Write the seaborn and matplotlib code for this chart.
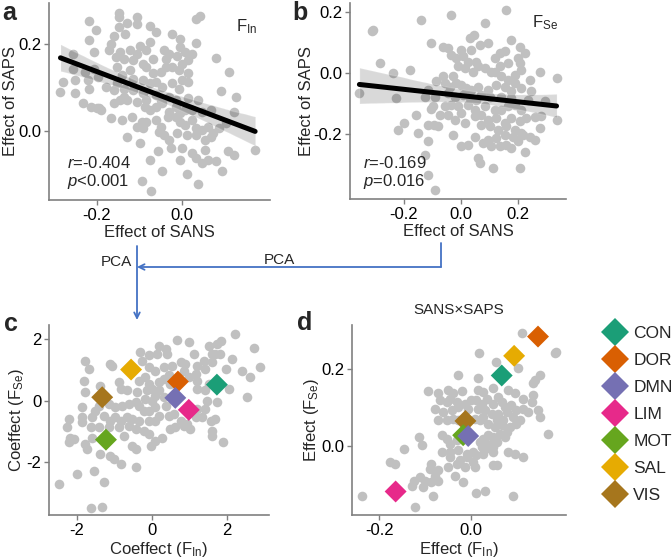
import numpy as np
import pandas as pd
import matplotlib
matplotlib.use("Agg")
import matplotlib.pyplot as plt
import seaborn as sns
from matplotlib.ticker import FormatStrFormatter

# ---- panel a : factor F_In (effect of SANS vs effect of SAPS) ----
sans_a = [-0.149, -0.149, -0.130, -0.149, -0.107, -0.107, -0.075, 0.042, 0.034, -0.218,
          -0.202, -0.160, -0.134, -0.061, -0.023, -0.004, -0.004, 0.034, -0.218, -0.168,
          -0.172, -0.145, -0.122, -0.107, -0.099, -0.076, -0.084, -0.042, -0.031, 0.008,
          0.023, 0.015, -0.256, -0.206, -0.156, -0.137, -0.115, -0.092, -0.069, -0.038,
          -0.011, 0.000, -0.038, 0.080, 0.111, -0.256, -0.229, -0.206, -0.153, -0.141,
          -0.122, -0.084, -0.069, -0.050, -0.023, -0.008, 0.015, 0.015, 0.000, -0.279,
          -0.252, -0.221, -0.198, -0.179, -0.153, -0.137, -0.115, -0.092, -0.076, -0.061,
          -0.046, -0.023, -0.008, -0.286, -0.252, -0.218, -0.160, -0.137, -0.115, -0.092,
          -0.084, -0.061, -0.050, -0.031, -0.015, 0.015, 0.038, 0.092, 0.126, -0.233,
          -0.214, -0.195, -0.160, -0.145, -0.130, -0.107, -0.088, -0.076, -0.061, -0.046,
          -0.031, -0.015, -0.004, 0.008, 0.023, 0.046, 0.069, 0.122, -0.168, -0.141,
          -0.118, -0.095, -0.107, -0.092, -0.084, -0.061, -0.050, -0.034, -0.015, -0.004,
          0.008, 0.023, 0.034, 0.046, 0.061, 0.073, 0.088, 0.103, -0.130, -0.099,
          -0.053, -0.042, -0.031, -0.011, 0.011, 0.034, 0.053, 0.069, -0.027, -0.057,
          0.000, 0.023, 0.034, 0.053, 0.107, 0.122, 0.172, -0.076, -0.004, 0.046,
          0.061, 0.080, 0.095, -0.046, 0.011, 0.038, -0.073, -0.095, -0.200, -0.191]
saps_a = [0.272, 0.261, 0.249, 0.238, 0.261, 0.246, 0.242, 0.265, 0.257, 0.252,
          0.232, 0.219, 0.223, 0.227, 0.223, 0.211, 0.192, 0.202, 0.209, 0.200,
          0.185, 0.181, 0.185, 0.177, 0.196, 0.204, 0.185, 0.186, 0.177, 0.181,
          0.177, 0.162, 0.177, 0.181, 0.170, 0.166, 0.162, 0.153, 0.166, 0.166,
          0.173, 0.153, 0.147, 0.168, 0.135, 0.143, 0.135, 0.143, 0.147, 0.128,
          0.139, 0.147, 0.132, 0.135, 0.147, 0.139, 0.132, 0.113, 0.116, 0.113,
          0.116, 0.116, 0.124, 0.101, 0.109, 0.097, 0.120, 0.116, 0.109, 0.113,
          0.101, 0.109, 0.097, 0.090, 0.087, 0.097, 0.094, 0.078, 0.094, 0.086,
          0.071, 0.082, 0.071, 0.078, 0.071, 0.075, 0.071, 0.092, 0.078, 0.063,
          0.056, 0.052, 0.063, 0.071, 0.071, 0.067, 0.056, 0.048, 0.056, 0.063,
          0.044, 0.056, 0.040, 0.048, 0.048, 0.044, 0.048, 0.044, 0.029, 0.025,
          0.033, 0.021, 0.010, 0.006, 0.021, 0.025, 0.010, 0.033, 0.033, 0.021,
          0.014, 0.025, 0.006, 0.002, 0.010, -0.005, 0.006, 0.017, -0.013, -0.028,
          -0.002, -0.009, -0.021, -0.005, -0.009, -0.009, -0.021, -0.013, -0.040, -0.047,
          -0.040, -0.051, -0.062, -0.043, -0.047, -0.055, -0.043, -0.066, -0.066, -0.074,
          -0.066, -0.070, -0.093, -0.093, -0.100, -0.123, -0.138, -0.116, 0.052, 0.048]

# ---- panel b : factor F_Se ----
sans_b = [-0.034, -0.139, 0.157, 0.083, -0.309, -0.312, 0.046, 0.030, -0.104, -0.063,
          -0.046, 0.001, 0.034, 0.065, 0.095, 0.177, 0.136, 0.153, 0.206, 0.223,
          -0.285, -0.180, -0.034, -0.016, 0.007, 0.025, 0.054, 0.118, 0.106, 0.136,
          0.165, 0.200, 0.206, 0.212, 0.188, 0.165, 0.188, 0.142, 0.118, 0.083,
          0.060, 0.042, 0.013, -0.011, -0.028, -0.063, -0.087, -0.116, -0.057, -0.040,
          -0.016, 0.001, 0.019, 0.036, 0.060, 0.095, 0.124, 0.153, 0.177, 0.212,
          0.241, 0.247, 0.276, 0.335, -0.356, -0.227, -0.127, -0.092, -0.046, -0.022,
          0.007, 0.030, 0.054, 0.071, 0.101, 0.142, 0.177, 0.235, 0.294, -0.098,
          -0.057, -0.034, -0.011, 0.025, 0.048, 0.083, 0.118, 0.142, 0.165, 0.188,
          0.212, 0.282, 0.335, -0.157, -0.075, -0.046, 0.001, 0.048, 0.071, 0.095,
          0.124, 0.153, 0.177, 0.206, 0.229, -0.198, -0.221, -0.116, -0.081, -0.022,
          0.013, 0.071, 0.101, 0.130, 0.159, 0.188, 0.212, 0.277, -0.151, -0.028,
          0.048, 0.095, 0.124, 0.153, 0.182, 0.218, 0.260, -0.116, 0.001, 0.025,
          0.077, 0.106, 0.136, 0.159, 0.177, 0.200, -0.127, 0.060, 0.065, -0.116,
          0.112, 0.206, -0.092, -0.239, -0.095, -0.105, 0.260, 0.225, 0.242]
saps_b = [0.191, 0.173, 0.208, 0.166, 0.142, 0.137, 0.126, 0.115, 0.098, 0.087,
          0.082, 0.077, 0.077, 0.093, 0.098, 0.109, 0.066, 0.071, 0.087, 0.066,
          0.033, 0.011, 0.060, 0.049, 0.055, 0.038, 0.038, 0.049, 0.005, 0.022,
          0.033, 0.049, 0.033, 0.011, -0.005, -0.022, -0.033, -0.011, 0.005, 0.016,
          0.022, 0.005, 0.016, 0.022, -0.011, -0.011, -0.027, -0.055, -0.033, -0.044,
          -0.033, -0.038, -0.049, -0.055, -0.044, -0.055, -0.038, -0.044, -0.060, -0.049,
          -0.022, -0.060, 0.005, -0.016, -0.066, -0.082, -0.077, -0.077, -0.066, -0.077,
          -0.071, -0.082, -0.087, -0.071, -0.077, -0.077, -0.082, -0.087, -0.093, -0.109,
          -0.109, -0.104, -0.109, -0.104, -0.120, -0.109, -0.120, -0.120, -0.109, -0.104,
          -0.120, -0.142, -0.153, -0.137, -0.137, -0.137, -0.131, -0.142, -0.137, -0.153,
          -0.148, -0.164, -0.148, -0.158, -0.148, -0.164, -0.186, -0.169, -0.175, -0.153,
          -0.164, -0.169, -0.175, -0.186, -0.175, -0.186, -0.197, -0.180, -0.195, -0.202,
          -0.208, -0.219, -0.213, -0.202, -0.208, -0.202, -0.220, -0.224, -0.240, -0.235,
          -0.230, -0.240, -0.240, -0.235, -0.246, -0.224, -0.268, -0.279, -0.295, -0.333,
          -0.311, -0.311, -0.383, 0.000, -0.170, -0.118, -0.144, -0.259, -0.210]

# ---- panel c : PCA coefficients of regions ----
coef_in = [2.20, 1.85, 1.73, 2.71, 2.89, 2.40, 2.62, 2.53, 1.88, 2.04,
           1.96, 2.13, 1.51, 1.60, 1.69, 1.82, 1.60, 1.38, 1.42, 1.20,
           1.16, 1.11, 0.98, 0.67, 0.18, 0.36, 0.40, 0.13, -0.09, -0.31,
           -0.27, -0.09, 0.09, 0.31, 0.53, 0.76, 0.89, 0.84, 0.98, 1.20,
           1.20, 1.42, 1.47, 1.73, 1.51, -1.78, -1.69, -1.11, -1.07, -1.82,
           -1.78, -1.38, -0.89, -0.84, -0.67, -0.40, -0.36, -0.18, -0.09, 0.00,
           0.18, 0.31, 0.44, 0.49, 0.18, -0.13, -0.18, 0.00, 0.09, 0.31,
           0.36, 0.09, -0.09, -0.22, -0.36, -0.44, -0.62, -0.80, -0.98, -1.16,
           -1.42, -1.51, -1.87, -1.87, -1.60, -1.29, -1.11, -0.98, -0.84, -0.67,
           -0.53, -0.36, -0.09, 0.09, 0.18, 0.44, 0.58, 0.76, 0.93, 1.16,
           1.33, 1.56, 1.69, 1.20, 1.42, -2.27, -2.22, -1.87, -1.64, -1.42,
           -1.16, -0.89, -0.62, -0.44, -0.22, -0.09, 0.27, 0.49, 0.62, 0.84,
           1.02, 1.60, 1.60, -2.18, -2.09, -2.22, -1.78, -1.60, -0.76, -0.53,
           -0.44, -0.04, 0.09, -1.73, -1.38, -1.11, -1.02, -0.84, -0.44, -1.56,
           -2.00, -1.29, -2.49, -1.64, -1.33]
coef_se = [2.17, 1.93, 1.83, 1.72, 1.09, 0.98, 0.76, 0.11, -1.36, 0.38,
           1.03, 1.36, 1.79, 1.52, 1.52, 1.52, 1.25, 1.30, 1.03, 1.14,
           0.87, 1.52, 1.90, 1.96, 1.79, 1.68, 1.52, 1.52, 1.47, 1.58,
           1.30, 1.09, 0.98, 1.09, 1.14, 1.25, 1.20, 0.98, 0.76, 0.65,
           0.38, 0.33, 0.00, -0.05, 0.54, 1.30, 1.03, 1.20, 1.14, 0.65,
           0.27, 0.49, 0.60, 0.38, 0.33, 0.27, 0.65, 0.76, 0.54, 0.38,
           0.60, 0.71, 0.82, 0.54, 0.33, 0.33, 0.05, 0.00, 0.16, 0.11,
           -0.16, -0.22, -0.33, -0.33, -0.16, -0.05, -0.11, -0.16, -0.22, -0.11,
           -0.16, -0.33, -0.22, -0.54, -0.54, -0.49, -0.65, -0.54, -0.65, -0.54,
           -0.60, -0.65, -0.65, -0.65, -0.49, -0.49, -0.43, -0.65, -0.76, -0.54,
           -0.54, -0.65, -0.60, -0.27, -0.27, -0.87, -0.60, -0.71, -0.87, -0.87,
           -0.87, -0.87, -0.82, -0.92, -0.98, -1.09, -1.20, -0.92, -0.87, -0.82,
           -0.92, -0.98, -1.14, -1.20, -1.25, -1.36, -1.41, -1.20, -1.14, -1.47,
           -1.58, -1.47, -1.30, -1.58, -1.74, -1.79, -1.90, -2.07, -2.17, -2.28,
           -2.39, -2.66, -2.72, -3.48, -3.45]

# ---- panel d : SANS x SAPS interaction effects ----
eff_in = [0.112, 0.018, 0.054, 0.103, 0.183, 0.186, 0.151, 0.139, 0.136, -0.028,
          0.016, -0.093, -0.071, -0.049, -0.038, -0.020, 0.016, 0.027, 0.049, 0.059,
          0.081, 0.096, 0.114, 0.136, 0.132, -0.067, -0.053, -0.046, -0.031, -0.013,
          0.001, 0.012, 0.023, 0.034, 0.049, 0.067, 0.074, 0.088, 0.099, 0.114,
          0.125, 0.146, 0.150, -0.078, -0.060, -0.042, -0.028, -0.006, 0.016, 0.030,
          0.045, 0.059, 0.078, 0.092, 0.107, 0.070, 0.056, 0.027, 0.020, 0.009,
          -0.071, -0.053, -0.038, -0.028, -0.006, 0.038, 0.052, 0.067, 0.085, 0.099,
          0.078, 0.063, 0.049, 0.038, 0.027, 0.020, 0.034, 0.056, 0.074, 0.168,
          -0.114, -0.064, -0.053, -0.046, -0.031, 0.023, 0.030, 0.041, 0.049, -0.107,
          -0.146, -0.064, -0.046, -0.028, -0.009, 0.005, 0.012, 0.027, 0.049, 0.081,
          0.096, 0.114, -0.046, -0.024, -0.009, 0.005, -0.049, -0.031, -0.013, 0.009,
          0.049, 0.056, -0.176, -0.165, -0.086, -0.089, -0.071, -0.078, -0.111, -0.100,
          -0.086, -0.071, -0.125, -0.129, -0.104, -0.035, -0.017, -0.238, -0.122, -0.082,
          0.012, 0.030, 0.092]
eff_se = [0.293, 0.241, 0.217, 0.202, 0.241, 0.245, 0.184, 0.171, 0.163, 0.184,
          0.176, 0.143, 0.137, 0.145, 0.137, 0.143, 0.145, 0.141, 0.150, 0.128,
          0.145, 0.137, 0.123, 0.132, 0.115, 0.119, 0.115, 0.123, 0.115, 0.110,
          0.119, 0.119, 0.110, 0.123, 0.110, 0.115, 0.102, 0.106, 0.093, 0.097,
          0.089, 0.093, 0.076, 0.097, 0.089, 0.093, 0.102, 0.097, 0.097, 0.093,
          0.084, 0.084, 0.089, 0.076, 0.067, 0.067, 0.067, 0.076, 0.067, 0.071,
          0.067, 0.067, 0.071, 0.067, 0.067, 0.058, 0.050, 0.054, 0.050, 0.058,
          0.037, 0.032, 0.023, 0.028, 0.019, 0.010, 0.006, 0.010, 0.023, 0.032,
          0.023, 0.028, 0.019, 0.006, 0.015, -0.003, -0.007, 0.002, -0.003, 0.002,
          -0.007, -0.016, -0.016, -0.011, -0.020, -0.016, -0.024, -0.020, -0.016, -0.016,
          -0.020, -0.029, -0.029, -0.037, -0.029, -0.042, -0.055, -0.046, -0.055, -0.055,
          -0.050, -0.050, -0.042, -0.046, -0.046, -0.059, -0.063, -0.077, -0.081, -0.090,
          -0.094, -0.090, -0.090, -0.103, -0.107, -0.077, -0.094, -0.129, -0.159, -0.129,
          -0.123, -0.116, -0.129]

# ---- network averages (diamonds) ----
networks = ["CON", "DOR", "DMN", "LIM", "MOT", "SAL", "VIS"]
draw_order = ["CON", "DOR", "LIM", "SAL", "VIS", "MOT", "DMN"]
net_c_in = {"CON": 1.73, "DOR": 0.69, "DMN": 0.62, "LIM": 0.98, "MOT": -1.23, "SAL": -0.56, "VIS": -1.33}
net_c_se = {"CON": 0.52, "DOR": 0.62, "DMN": 0.09, "LIM": -0.30, "MOT": -1.27, "SAL": 1.01, "VIS": 0.11}
net_d_in = {"CON": 0.067, "DOR": 0.146, "DMN": -0.006, "LIM": -0.164, "MOT": -0.017, "SAL": 0.094, "VIS": -0.012}
net_d_se = {"CON": 0.183, "DOR": 0.284, "DMN": 0.026, "LIM": -0.118, "MOT": 0.028, "SAL": 0.234, "VIS": 0.065}

sns.set_style("ticks")
plt.rcParams["font.family"] = ["Liberation Sans", "DejaVu Sans"]
plt.rcParams["mathtext.fontset"] = "custom"
plt.rcParams["mathtext.rm"] = "Liberation Sans"
plt.rcParams["mathtext.it"] = "Liberation Sans:italic"
plt.rcParams["axes.unicode_minus"] = False

GREY = "#c0c0c0"
AXC = "#808080"
BLUE = "#4472c4"
pal = dict(zip(networks, sns.color_palette("Dark2", 7)))

fig = plt.figure(figsize=(6.72, 5.59), dpi=100)
ax_a = fig.add_axes([0.0729, 0.6422, 0.3289, 0.3524])
ax_b = fig.add_axes([0.5208, 0.6440, 0.3214, 0.3506])
ax_c = fig.add_axes([0.0729, 0.0787, 0.3274, 0.3399])
ax_d = fig.add_axes([0.5238, 0.0787, 0.3185, 0.3399])


def style(ax):
    sns.despine(ax=ax)
    for s in ["left", "bottom"]:
        ax.spines[s].set_color(AXC)
        ax.spines[s].set_linewidth(1.2)
    ax.tick_params(colors=AXC, labelcolor="black", labelsize=12, length=3.5, width=1.0, pad=2)


# a
sns.scatterplot(x=sans_a, y=saps_a, ax=ax_a, color=GREY, s=48, linewidth=0, zorder=1)
sns.regplot(x=np.array(sans_a), y=np.array(saps_a), ax=ax_a, scatter=False, color="black",
            line_kws={"lw": 3.6}, seed=0)
ax_a.set_xlim(-0.313, 0.207)
ax_a.set_ylim(-0.159, 0.294)
ax_a.set_xticks([-0.2, 0.0])
ax_a.set_yticks([0.0, 0.2])

# b
sns.scatterplot(x=sans_b, y=saps_b, ax=ax_b, color=GREY, s=48, linewidth=0, zorder=1)
sns.regplot(x=np.array(sans_b), y=np.array(saps_b), ax=ax_b, scatter=False, color="black",
            line_kws={"lw": 3.6}, seed=0)
ax_b.set_xlim(-0.389, 0.368)
ax_b.set_ylim(-0.413, 0.23)
ax_b.set_xticks([-0.2, 0.0, 0.2])
ax_b.set_yticks([-0.2, 0.0, 0.2])

for ax in (ax_a, ax_b):
    ax.xaxis.set_major_formatter(FormatStrFormatter("%.1f"))
    ax.yaxis.set_major_formatter(FormatStrFormatter("%.1f"))
    ax.set_xlabel("Effect of SANS", fontsize=12, labelpad=2)
    ax.set_ylabel("Effect of SAPS", fontsize=12, labelpad=0)
    style(ax)

# c
net_c = pd.DataFrame({"net": draw_order,
                      "x": [net_c_in[n] for n in draw_order],
                      "y": [net_c_se[n] for n in draw_order]})
sns.scatterplot(x=coef_in, y=coef_se, ax=ax_c, color=GREY, s=48, linewidth=0)
sns.scatterplot(data=net_c, x="x", y="y", hue="net", hue_order=networks, palette=pal,
                marker="D", s=125, linewidth=0, ax=ax_c, legend=False)
ax_c.set_xlim(-2.75, 3.12)
ax_c.set_ylim(-3.72, 2.46)
ax_c.set_xticks([-2, 0, 2])
ax_c.set_yticks([-2, 0, 2])
ax_c.set_xlabel(r"Coeffect (F$_{\mathrm{In}}$)", fontsize=12, labelpad=2)
ax_c.set_ylabel(r"Coeffect (F$_{\mathrm{Se}}$)", fontsize=12, labelpad=0)
style(ax_c)

# d
net_d = pd.DataFrame({"net": draw_order,
                      "x": [net_d_in[n] for n in draw_order],
                      "y": [net_d_se[n] for n in draw_order]})
sns.scatterplot(x=eff_in, y=eff_se, ax=ax_d, color=GREY, s=48, linewidth=0)
sns.scatterplot(data=net_d, x="x", y="y", hue="net", hue_order=networks, palette=pal,
                marker="D", s=125, linewidth=0, ax=ax_d)
ax_d.set_xlim(-0.259, 0.207)
ax_d.set_ylim(-0.179, 0.314)
ax_d.set_xticks([-0.2, 0.0])
ax_d.set_yticks([0.0, 0.2])
ax_d.xaxis.set_major_formatter(FormatStrFormatter("%.1f"))
ax_d.yaxis.set_major_formatter(FormatStrFormatter("%.1f"))
ax_d.set_xlabel(r"Effect (F$_{\mathrm{In}}$)", fontsize=12, labelpad=2)
ax_d.set_ylabel(r"Effect (F$_{\mathrm{Se}}$)", fontsize=12, labelpad=0)
ax_d.set_title("SANS\u00d7SAPS", fontsize=11, pad=8)
style(ax_d)
sns.move_legend(ax_d, "upper left", bbox_to_anchor=(0.8985, 0.4168), bbox_transform=fig.transFigure,
                frameon=False, title=None, fontsize=12.5, labelspacing=0.68, handlelength=1.3,
                handletextpad=0.4, markerscale=1.25, borderpad=0, borderaxespad=0)

# annotations in figure pixels
ov = fig.add_axes([0, 0, 1, 1])
ov.set_xlim(0, 672)
ov.set_ylim(559, 0)
ov.axis("off")
ov.patch.set_alpha(0)

for lab, (px, py) in {"a": (2, 20), "b": (292, 20), "c": (4, 331), "d": (297, 330)}.items():
    ov.text(px, py, lab, fontsize=18, fontweight="bold", ha="left", va="baseline")

ov.text(236, 31, r"F$_{\mathrm{In}}$", fontsize=12, va="baseline")
ov.text(532, 27, r"F$_{\mathrm{Se}}$", fontsize=12, va="baseline")
ov.text(67, 168, r"$\it{r}$=-0.404", fontsize=12, va="baseline")
ov.text(67, 186, r"$\it{p}$<0.001", fontsize=12, va="baseline")
ov.text(363, 168, r"$\it{r}$=-0.169", fontsize=12, va="baseline")
ov.text(363, 186, r"$\it{p}$=0.016", fontsize=12, va="baseline")

ov.text(116, 262, "PCA", fontsize=11, ha="center", va="center")
ov.text(279, 260, "PCA", fontsize=11, ha="center", va="center")
ov.plot([441, 441], [243, 267], color=BLUE, lw=1.3)
ov.annotate("", xy=(137, 267), xytext=(441, 267),
            arrowprops=dict(arrowstyle="->", color=BLUE, lw=1.3, shrinkA=0, shrinkB=0, mutation_scale=10))
ov.annotate("", xy=(137, 320), xytext=(137, 246),
            arrowprops=dict(arrowstyle="->", color=BLUE, lw=1.3, shrinkA=0, shrinkB=0, mutation_scale=10))

fig.savefig("out.png", dpi=100)
